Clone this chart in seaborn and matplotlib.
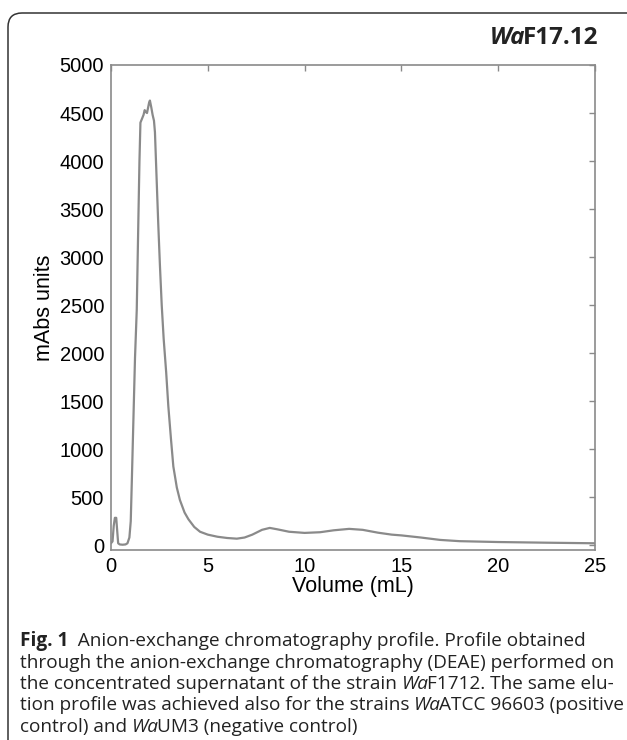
import numpy as np
import pandas as pd
import seaborn as sns
import matplotlib.pyplot as plt
from matplotlib.patches import FancyBboxPatch
from matplotlib.transforms import IdentityTransform

sns.set_theme(style="white")
plt.rcParams['font.family'] = ['Liberation Sans', 'DejaVu Sans']

# elution profile (volume in mL, absorbance in mAbs units)
volume = [0.0, 0.08, 0.14, 0.2, 0.27, 0.32, 0.37, 0.45, 0.6, 0.75, 0.85, 0.95,
          1.02, 1.08, 1.15, 1.24, 1.33, 1.41, 1.47, 1.52, 1.6, 1.68, 1.74, 1.8,
          1.86, 1.92, 1.97, 2.01, 2.08, 2.15, 2.22, 2.27, 2.35, 2.44, 2.53, 2.62,
          2.72, 2.85, 2.96, 3.1, 3.22, 3.4, 3.56, 3.8, 4.0, 4.3, 4.6, 5.0, 5.5,
          6.0, 6.5, 6.9, 7.3, 7.8, 8.2, 8.6, 9.2, 10.0, 10.8, 11.5, 12.3, 13.0,
          13.8, 14.5, 15.0, 16.0, 17.0, 18.0, 20.0, 22.5, 25.0]
absorbance = [20, 40, 200, 285, 285, 150, 20, 8, 5, 8, 20, 80,
              250, 700, 1250, 1950, 2450, 3350, 4000, 4400, 4440, 4480, 4530, 4510,
              4500, 4560, 4610, 4630, 4560, 4480, 4420, 4300, 3850, 3350, 2900, 2500,
              2150, 1800, 1450, 1100, 820, 600, 470, 340, 270, 190, 140, 110, 88,
              75, 68, 80, 110, 160, 180, 165, 140, 128, 135, 155, 170, 160,
              130, 110, 102, 80, 55, 42, 33, 26, 20]

x_ticks = [0, 5, 10, 15, 20, 25]
y_ticks = list(range(0, 5001, 500))

caption = [
    [("Fig. 1", "bold"), ("  Anion-exchange chromatography profile. Profile obtained", "normal")],
    [("through the anion-exchange chromatography (DEAE) performed on", "normal")],
    [("the concentrated supernatant of the strain ", "normal"), ("Wa", "italic"),
     ("F1712. The same elu-", "normal")],
    [("tion profile was achieved also for the strains ", "normal"), ("Wa", "italic"),
     ("ATCC 96603 (positive", "normal")],
    [("control) and ", "normal"), ("Wa", "italic"), ("UM3 (negative control)", "normal")],
]

df = pd.DataFrame({"Volume": volume, "Abs": absorbance})

fig = plt.figure(figsize=(6.27, 7.4), dpi=100)
ax = fig.add_axes([111 / 627, 1 - 550 / 740, (595 - 111) / 627, (550 - 65) / 740])

sns.lineplot(data=df, x="Volume", y="Abs", color="#8a8a8a", lw=1.6, ax=ax)

ax.set_xlim(0, 25)
ax.set_ylim(-50, 5000)
ax.set_xticks(x_ticks)
ax.set_yticks(y_ticks)
ax.tick_params(direction="in", length=4, width=1, top=True, right=True,
               color="#8a8a8a", labelcolor="black", labelsize=14.5, pad=5)
for s in ax.spines.values():
    s.set_color("#8a8a8a")
    s.set_linewidth(1.2)
ax.set_xlabel("Volume (mL)", fontsize=15.5, color="black", labelpad=0)
ax.set_ylabel("mAbs units", fontsize=15.5, color="black", labelpad=3)

# rounded panel frame (only the top-left corner is visible)
frame = FancyBboxPatch((8, -40), 700, 740 - 13 + 40,
                       boxstyle="round,pad=0,rounding_size=14",
                       transform=IdentityTransform(), fill=False,
                       edgecolor="#333333", lw=1.1)
fig.patches.append(frame)

fig.canvas.draw()
renderer = fig.canvas.get_renderer()


def draw_runs(runs, x, y, size, family, align="left", weight_all=None):
    # place styled pieces of text one after another (pixel coordinates)
    pieces = []
    for txt, style in runs:
        weight = "bold" if style in ("bold", "bolditalic") else "normal"
        fstyle = "italic" if style in ("italic", "bolditalic") else "normal"
        if weight_all:
            weight = weight_all
        t = fig.text(0, 0, txt, fontsize=size, family=family, weight=weight,
                     style=fstyle, va="center", ha="left", color="#222222",
                     transform=IdentityTransform())
        pieces.append((t, fstyle))
    widths = []
    for t, fstyle in pieces:
        w = t.get_window_extent(renderer).width
        if fstyle == "italic":
            w -= size * 0.15  # italic boxes carry a little trailing slack
        widths.append(w)
    total = sum(widths)
    cx = x - total if align == "right" else x
    for (t, _), w in zip(pieces, widths):
        t.set_position((cx, y))
        cx += w


draw_runs([("Wa", "bolditalic"), ("F17.12", "bold")], 598, 740 - 38, 17.5,
          ["Open Sans", "DejaVu Sans"], align="right", weight_all="bold")

for i, line in enumerate(caption):
    draw_runs(line, 20, 740 - (641 + 21.5 * i), 13.7, ["Open Sans", "DejaVu Sans"])

fig.savefig("out.png", dpi=100)
